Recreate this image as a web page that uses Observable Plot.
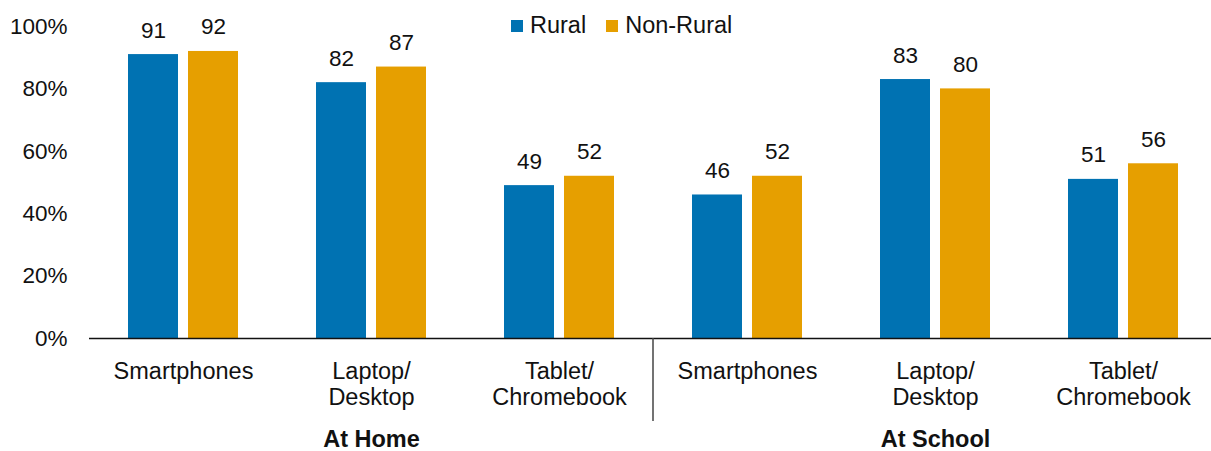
<!DOCTYPE html>
<html>
<head>
<meta charset="utf-8">
<script src="https://cdn.jsdelivr.net/npm/d3@7"></script>
<script src="https://cdn.jsdelivr.net/npm/@observablehq/plot@0.6"></script>
<style>
  body { margin: 0; background: #fff; font-family: "Liberation Sans", Arial, sans-serif; overflow: hidden; }
  #wrap { position: relative; width: 1211px; height: 451px; overflow: hidden; }
  #legend { position: absolute; left: 511px; top: 12px; display: flex; align-items: center; font-size: 23.5px; color: #111; }
  #legend .sw { width: 12px; height: 12px; display: inline-block; margin-right: 7px; }
  #legend .item { display: flex; align-items: center; margin-right: 20px; }
</style>
</head>
<body>
<div id="wrap"><div id="legend"></div></div>
<script>
const groups = ["At Home", "At School"];
const devices = ["Smartphones", "Laptop/\nDesktop", "Tablet/\nChromebook"];
const series = ["Rural", "Non-Rural"];
const colors = ["#0072B2", "#E69F00"];
const rural = [91, 82, 49, 46, 83, 51];
const nonRural = [92, 87, 52, 52, 80, 56];
const yTicks = [0, 20, 40, 60, 80, 100];

const keys = [];
groups.forEach(g => devices.forEach(d => keys.push(g + "|" + d)));
const data = [];
keys.forEach((k, i) => {
  data.push({key: k, series: "Rural", value: rural[i]});
  data.push({key: k, series: "Non-Rural", value: nonRural[i]});
});
const groupLabels = groups.map((g, i) => ({label: g, key: keys[i * devices.length + 1]}));

const plot = Plot.plot({
  width: 1211,
  height: 451,
  marginLeft: 89,
  marginRight: -6,
  marginTop: 26,
  marginBottom: 113,
  style: {fontFamily: "'Liberation Sans', Arial, sans-serif", fontSize: "22px", color: "#111", overflow: "hidden"},
  fx: {domain: keys, padding: 0, label: null},
  x: {domain: series, paddingInner: 0.164, paddingOuter: 0.623, axis: null},
  y: {domain: [0, 100], label: null},
  color: {domain: series, range: colors},
  marks: [
    Plot.barY(data, {fx: "key", x: "series", y: "value", fill: "series"}),
    Plot.text(data, {fx: "key", x: "series", y: "value", text: d => String(d.value), lineAnchor: "bottom", dy: -17, fontSize: 22.5, fill: "#111"}),
    Plot.ruleY([0], {stroke: "#111", strokeWidth: 1.5}),
    Plot.axisY({ticks: yTicks, tickFormat: d => d + "%", tickSize: 0, tickPadding: 22, line: true, strokeWidth: 1.5, label: null, fontSize: 22.5}),
    Plot.axisFx({anchor: "bottom", tickSize: 0, tickPadding: 21, tickFormat: d => d.split("|")[1], fontSize: 23.5, lineHeight: 1.14, label: null}),
    Plot.text(groupLabels, {fx: "key", text: "label", frameAnchor: "bottom", lineAnchor: "bottom", dy: 108, fontWeight: "bold", fontSize: 23.5, fill: "#111"})
  ]
});

// divider between the two groups, positioned with the fx scale
const fxs = plot.scale("fx");
const ys = plot.scale("y");
const xDiv = fxs.apply(keys[devices.length]);
const y0 = ys.apply(0);
d3.select(plot).append("line")
  .attr("x1", xDiv).attr("x2", xDiv)
  .attr("y1", y0).attr("y2", y0 + 83)
  .attr("stroke", "#444").attr("stroke-width", 1.5);

document.getElementById("wrap").prepend(plot);

const legend = d3.select("#legend");
series.forEach((s, i) => {
  const it = legend.append("div").attr("class", "item");
  it.append("span").attr("class", "sw").style("background", colors[i]);
  it.append("span").text(s);
});
</script>
</body>
</html>
